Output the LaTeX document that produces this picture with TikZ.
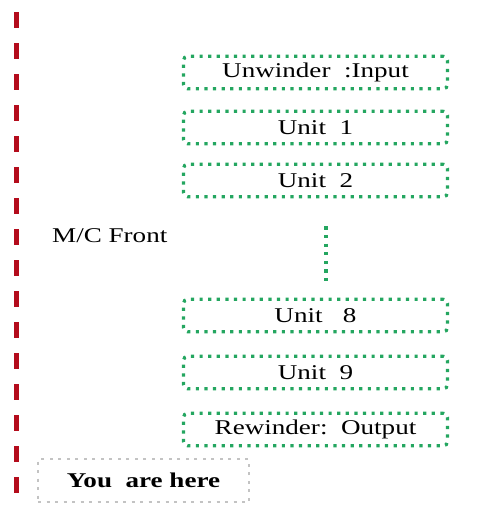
\documentclass[tikz,border=0pt]{standalone}
\usepackage{fontspec}
\setmainfont{Liberation Serif}
\usepackage{graphicx}
\definecolor{dotgreen}{RGB}{36,166,96}
\definecolor{dashred}{RGB}{180,12,28}
\definecolor{dotgray}{RGB}{195,195,195}
\newcommand{\wtext}[1]{\scalebox{1.29}[1]{#1}}
\begin{document}
\begin{tikzpicture}[x=1pt,y=-1pt,
  unitbox/.style={draw=dotgreen, line width=3.2pt, dash pattern=on 3.2pt off 5.4pt,
    rounded corners=4pt, minimum width=264pt, minimum height=32.5pt, inner sep=0pt,
    font=\fontsize{21}{25}\selectfont},
  herebox/.style={draw=dotgray, line width=2.5pt, dash pattern=on 3pt off 5.5pt,
    minimum width=211pt, minimum height=43pt, inner sep=0pt,
    font=\fontsize{21}{25}\selectfont\bfseries},
  plainlabel/.style={font=\fontsize{21}{25}\selectfont, inner sep=0pt, anchor=west},
  link/.style={draw=dotgreen, line width=3.2pt, dash pattern=on 3.2pt off 5.4pt}
]
\useasboundingbox (0,0) rectangle (489,506);
\coordinate (rtop) at (16.5,12);
\coordinate (rbot) at (16.5,494);
\draw[dashred, line width=4.5pt, dash pattern=on 16pt off 15pt] (rtop) -- (rbot);

\node[unitbox] (b1) at (315.5,72.5) {\wtext{Unwinder\ \ :Input}};
\node[unitbox] (b2) at (315.5,127.5) {\wtext{Unit\ \ 1}};
\node[unitbox] (b3) at (315.5,180.5) {\wtext{Unit\ \ 2}};
\node[unitbox] (b8) at (315.5,315.5) {\wtext{Unit\ \ \ 8}};
\node[unitbox] (b9) at (315.5,372.5) {\wtext{Unit\ \ 9}};
\node[unitbox] (b10) at (315.5,429.5) {\wtext{Rewinder:\ \ Output}};

\draw[link] ([yshift=-28pt]b3.south -| 326,0) -- ([yshift=16pt]b8.north -| 326,0);

\node[plainlabel] (front) at (52,236) {\wtext{M/C Front}};
\node[herebox] (here) at (143.5,480.5) {\wtext{You\ \ are here}};
\end{tikzpicture}
\end{document}
